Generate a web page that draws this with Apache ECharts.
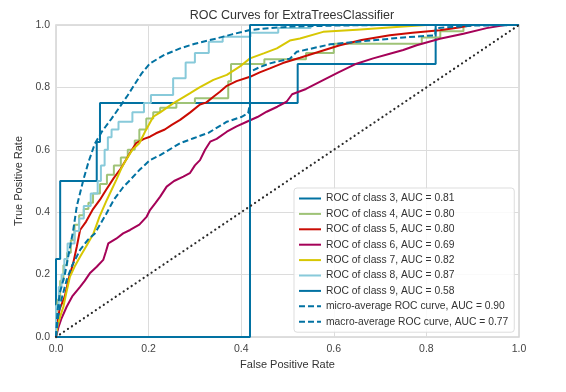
<!DOCTYPE html>
<html>
<head>
<meta charset="utf-8">
<script src="https://cdn.jsdelivr.net/npm/echarts@6/dist/echarts.min.js"></script>
<style>
html,body{margin:0;padding:0;background:#fff;}
#chart{width:566px;height:392px;}
</style>
</head>
<body>
<div id="chart"></div>
<script>
// ---- data ----
const titleText = 'ROC Curves for ExtraTreesClassifier';
const xAxisName = 'False Positive Rate';
const yAxisName = 'True Positive Rate';
const tickValues = [0, 0.2, 0.4, 0.6, 0.8, 1.0];
const tickLabels = ['0.0', '0.2', '0.4', '0.6', '0.8', '1.0'];

const seriesNames = [
  'ROC of class 3, AUC = 0.81',
  'ROC of class 4, AUC = 0.80',
  'ROC of class 5, AUC = 0.80',
  'ROC of class 6, AUC = 0.69',
  'ROC of class 7, AUC = 0.82',
  'ROC of class 8, AUC = 0.87',
  'ROC of class 9, AUC = 0.58',
  'micro-average ROC curve, AUC = 0.90',
  'macro-average ROC curve, AUC = 0.77'
];

const fpr3 = [0, 0, 0.009, 0.009, 0.088, 0.088, 0.095, 0.095, 0.522, 0.522, 0.82, 0.82, 1];
const tpr3 = [0, 0.25, 0.25, 0.5, 0.5, 0.625, 0.625, 0.75, 0.75, 0.875, 0.875, 1, 1];

const fpr4 = [0, 0, 0.004, 0.004, 0.009, 0.009, 0.016, 0.016, 0.024, 0.024, 0.032, 0.032, 0.04, 0.04, 0.05, 0.05, 0.06, 0.06, 0.07, 0.07, 0.08, 0.08, 0.095, 0.095, 0.11, 0.11, 0.125, 0.125, 0.14, 0.14, 0.155, 0.155, 0.17, 0.17, 0.18, 0.18, 0.195, 0.195, 0.21, 0.21, 0.225, 0.225, 0.26, 0.26, 0.3, 0.3, 0.372, 0.372, 0.378, 0.378, 0.45, 0.45, 0.54, 0.54, 0.6, 0.6, 0.79, 0.79, 0.83, 0.83, 0.88, 0.88, 1];
const tpr4 = [0, 0.06, 0.06, 0.12, 0.12, 0.18, 0.18, 0.23, 0.23, 0.27, 0.27, 0.31, 0.31, 0.36, 0.36, 0.39, 0.39, 0.41, 0.41, 0.43, 0.43, 0.46, 0.46, 0.49, 0.49, 0.52, 0.52, 0.55, 0.55, 0.575, 0.575, 0.6, 0.6, 0.63, 0.63, 0.665, 0.665, 0.7, 0.7, 0.72, 0.72, 0.735, 0.735, 0.75, 0.75, 0.765, 0.765, 0.82, 0.82, 0.875, 0.875, 0.89, 0.89, 0.91, 0.91, 0.94, 0.94, 0.96, 0.96, 0.98, 0.98, 1, 1];

const fpr5 = [0, 0.003, 0.008, 0.019, 0.028, 0.037, 0.045, 0.052, 0.065, 0.08, 0.095, 0.108, 0.125, 0.14, 0.151, 0.162, 0.173, 0.19, 0.203, 0.216, 0.235, 0.25, 0.268, 0.29, 0.311, 0.325, 0.34, 0.354, 0.369, 0.39, 0.419, 0.44, 0.462, 0.49, 0.527, 0.57, 0.613, 0.66, 0.721, 0.77, 0.829, 0.87, 0.9, 1];
const tpr5 = [0, 0.05, 0.09, 0.13, 0.19, 0.236, 0.29, 0.343, 0.37, 0.41, 0.44, 0.471, 0.51, 0.54, 0.567, 0.595, 0.621, 0.635, 0.642, 0.653, 0.665, 0.68, 0.696, 0.72, 0.745, 0.752, 0.77, 0.786, 0.805, 0.82, 0.834, 0.848, 0.861, 0.878, 0.895, 0.915, 0.935, 0.952, 0.967, 0.975, 0.983, 0.992, 1, 1];

const fpr6 = [0, 0.005, 0.012, 0.023, 0.035, 0.052, 0.062, 0.073, 0.088, 0.102, 0.108, 0.113, 0.13, 0.145, 0.16, 0.18, 0.196, 0.203, 0.215, 0.225, 0.239, 0.255, 0.275, 0.289, 0.3, 0.311, 0.322, 0.333, 0.347, 0.369, 0.39, 0.412, 0.435, 0.455, 0.478, 0.498, 0.51, 0.54, 0.577, 0.61, 0.649, 0.685, 0.721, 0.75, 0.779, 0.829, 0.88, 0.93, 0.97, 1];
const tpr6 = [0, 0.03, 0.06, 0.097, 0.13, 0.161, 0.18, 0.204, 0.225, 0.247, 0.275, 0.3, 0.315, 0.332, 0.343, 0.36, 0.386, 0.407, 0.43, 0.45, 0.482, 0.5, 0.514, 0.525, 0.55, 0.567, 0.6, 0.626, 0.635, 0.658, 0.675, 0.69, 0.705, 0.722, 0.738, 0.754, 0.778, 0.795, 0.823, 0.848, 0.876, 0.893, 0.908, 0.92, 0.935, 0.956, 0.972, 0.99, 1, 1];

const fpr7 = [0, 0.003, 0.01, 0.016, 0.022, 0.03, 0.04, 0.052, 0.065, 0.081, 0.094, 0.11, 0.13, 0.141, 0.151, 0.165, 0.18, 0.194, 0.21, 0.225, 0.253, 0.289, 0.31, 0.34, 0.369, 0.4, 0.419, 0.45, 0.477, 0.505, 0.527, 0.577, 0.65, 0.743, 0.8, 1];
const tpr7 = [0, 0.033, 0.07, 0.097, 0.14, 0.193, 0.225, 0.257, 0.29, 0.332, 0.386, 0.44, 0.503, 0.54, 0.567, 0.6, 0.621, 0.663, 0.706, 0.72, 0.749, 0.781, 0.8, 0.824, 0.84, 0.87, 0.893, 0.91, 0.925, 0.95, 0.957, 0.978, 0.985, 0.994, 1, 1];

const fpr8 = [0, 0, 0.006, 0.006, 0.012, 0.012, 0.018, 0.018, 0.025, 0.025, 0.04, 0.04, 0.05, 0.05, 0.06, 0.06, 0.075, 0.075, 0.09, 0.09, 0.097, 0.097, 0.105, 0.105, 0.112, 0.112, 0.12, 0.12, 0.135, 0.135, 0.165, 0.165, 0.19, 0.19, 0.205, 0.205, 0.253, 0.253, 0.28, 0.28, 0.3, 0.3, 0.33, 0.33, 0.36, 0.36, 0.42, 0.42, 0.48, 0.48, 0.55, 0.55, 1];
const tpr8 = [0, 0.1, 0.1, 0.16, 0.16, 0.2, 0.2, 0.25, 0.25, 0.3, 0.3, 0.34, 0.34, 0.38, 0.38, 0.42, 0.42, 0.46, 0.46, 0.5, 0.5, 0.55, 0.55, 0.6, 0.6, 0.64, 0.64, 0.665, 0.665, 0.69, 0.69, 0.72, 0.72, 0.75, 0.75, 0.776, 0.776, 0.829, 0.829, 0.88, 0.88, 0.91, 0.91, 0.946, 0.946, 0.962, 0.962, 0.975, 0.975, 0.99, 0.99, 1, 1];

const fpr9 = [0, 0.419, 0.419, 1];
const tpr9 = [0, 0, 1, 1];

const fprMicro = [0, 0.003, 0.008, 0.019, 0.028, 0.037, 0.045, 0.059, 0.07, 0.084, 0.1, 0.12, 0.138, 0.155, 0.17, 0.185, 0.203, 0.235, 0.268, 0.3, 0.347, 0.38, 0.419, 0.46, 0.512, 0.6, 0.7, 1];
const tprMicro = [0, 0.08, 0.14, 0.2, 0.27, 0.34, 0.42, 0.503, 0.56, 0.62, 0.66, 0.7, 0.738, 0.775, 0.81, 0.845, 0.877, 0.905, 0.925, 0.94, 0.957, 0.97, 0.984, 0.99, 0.995, 0.998, 1, 1];

const fprMacro = [0, 0.004, 0.01, 0.023, 0.035, 0.052, 0.068, 0.084, 0.095, 0.109, 0.125, 0.145, 0.16, 0.18, 0.203, 0.225, 0.268, 0.297, 0.33, 0.369, 0.4, 0.415, 0.419, 0.419, 0.44, 0.462, 0.505, 0.52, 0.592, 0.685, 0.75, 0.819, 0.82, 0.9, 1];
const tprMacro = [0, 0.06, 0.11, 0.183, 0.23, 0.279, 0.31, 0.332, 0.36, 0.396, 0.44, 0.48, 0.503, 0.535, 0.567, 0.583, 0.621, 0.637, 0.655, 0.69, 0.705, 0.717, 0.75, 0.85, 0.865, 0.877, 0.892, 0.914, 0.938, 0.951, 0.96, 0.967, 0.99, 0.998, 1];

const diagX = [0, 1];
const diagY = [0, 1];

// ---- styles ----
const colors = ['#0272a2', '#9fc377', '#ca0b03', '#a50258', '#d7c703', '#88cada', '#0272a2', '#0272a2', '#0272a2'];
const curvesX = [fpr3, fpr4, fpr5, fpr6, fpr7, fpr8, fpr9, fprMicro, fprMacro];
const curvesY = [tpr3, tpr4, tpr5, tpr6, tpr7, tpr8, tpr9, tprMicro, tprMacro];
const dashed = [false, false, false, false, false, false, false, true, true];

const pairs = (xs, ys) => xs.map((x, i) => [x, ys[i]]);

const series = seriesNames.map((name, i) => ({
  name: name,
  type: 'line',
  data: pairs(curvesX[i], curvesY[i]),
  showSymbol: false,
  symbol: 'none',
  clip: false,
  color: colors[i],
  lineStyle: { color: colors[i], width: 2, type: dashed[i] ? [6, 3] : 'solid' },
  emphasis: { disabled: true },
  z: 2 + i
}));
series.push({
  name: 'diagonal',
  type: 'line',
  data: pairs(diagX, diagY),
  showSymbol: false,
  symbol: 'none',
  clip: false,
  lineStyle: { color: '#2a2a2a', width: 2.2, type: [0.1, 4.7], cap: 'round' },
  emphasis: { disabled: true },
  z: 20
});

const axisLabelFmt = v => {
  const idx = tickValues.findIndex(t => Math.abs(t - v) < 1e-9);
  return idx >= 0 ? tickLabels[idx] : '';
};

const chart = echarts.init(document.getElementById('chart'), null, { renderer: 'canvas' });
chart.setOption({
  animation: false,
  backgroundColor: '#ffffff',
  textStyle: { fontFamily: 'Liberation Sans, Arial, sans-serif' },
  title: {
    text: titleText,
    left: 287, top: 4, textAlign: 'center',
    textStyle: { fontSize: 12.5, fontWeight: 'normal', color: '#333333', fontFamily: 'Liberation Sans, Arial, sans-serif' }
  },
  grid: { left: 56, right: 47, top: 25, bottom: 55, show: true, borderColor: '#d4d4d4', borderWidth: 1.5, backgroundColor: '#ffffff' },
  xAxis: {
    type: 'value', min: 0, max: 1, interval: 0.2,
    name: xAxisName, nameLocation: 'middle', nameGap: 21,
    nameTextStyle: { fontSize: 11, color: '#333333' },
    axisLine: { show: false }, axisTick: { show: false },
    axisLabel: { formatter: axisLabelFmt, fontSize: 10.5, color: '#444444', margin: 7 },
    splitLine: { show: true, lineStyle: { color: '#dcdcdc', width: 1 } }
  },
  yAxis: {
    type: 'value', min: 0, max: 1, interval: 0.2,
    name: yAxisName, nameLocation: 'middle', nameGap: 24, nameRotate: 90,
    nameTextStyle: { fontSize: 11, color: '#333333' },
    axisLine: { show: false }, axisTick: { show: false },
    axisLabel: { formatter: axisLabelFmt, fontSize: 10.5, color: '#444444', margin: 6 },
    splitLine: { show: true, lineStyle: { color: '#dcdcdc', width: 1 } }
  },
  legend: {
    data: seriesNames,
    orient: 'vertical',
    left: 294, top: 188,
    padding: [4, 6, 4, 4],
    itemWidth: 22, itemHeight: 12, itemGap: 2.4,
    itemStyle: { opacity: 0 },
    backgroundColor: 'rgba(255,255,255,0.85)',
    borderColor: '#dddddd', borderWidth: 1, borderRadius: 3,
    textStyle: { fontSize: 10.3, lineHeight: 13, color: '#333333', fontFamily: 'Liberation Sans, Arial, sans-serif' },
    selectedMode: false
  },
  series: series
});
</script>
</body>
</html>
